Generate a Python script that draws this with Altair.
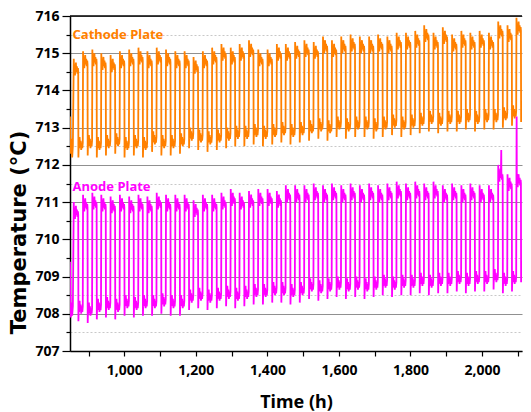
import altair as alt
import pandas as pd

# ---- data ----
# times (h) of each heating step (rising edge)
rise_times = [858, 884, 910, 935, 961, 987, 1013, 1039, 1064, 1090, 1116, 1142,
              1168, 1193, 1219, 1245, 1271, 1297, 1322, 1348, 1374, 1400, 1426,
              1451, 1477, 1503, 1529, 1555, 1580, 1606, 1632, 1658, 1684, 1709,
              1735, 1761, 1787, 1813, 1838, 1864, 1890, 1916, 1942, 1967, 1993,
              2019, 2045, 2071, 2096, 2122]

cathode_high = [714.6, 714.8, 714.85, 714.75, 714.7, 714.8, 714.85, 714.9, 714.8, 714.9, 714.85, 714.8,
                714.8, 714.65, 714.8, 714.9, 715.0, 714.9, 715.0, 715.1, 714.85, 714.85, 715.0, 715.0, 715.05,
                715.1, 715.05, 715.2, 715.1, 715.2, 715.25, 715.2, 715.2, 715.25, 715.2, 715.3, 715.3,
                715.35, 715.5, 715.3, 715.45, 715.25, 715.35, 715.3, 715.35, 715.3, 715.6, 715.5, 715.7, 715.55]
cathode_low = [712.55, 712.6, 712.55, 712.6, 712.65, 712.55, 712.6, 712.55, 712.7, 712.6, 712.6, 712.65,
               712.8, 712.75, 712.7, 712.75, 712.8, 712.85, 712.85, 712.9, 712.85, 712.9, 712.95, 712.9, 712.95,
               713.0, 713.05, 713.0, 713.1, 713.05, 713.1, 713.1, 713.05, 713.1, 713.15, 713.1, 713.15,
               713.2, 713.25, 713.2, 713.25, 713.25, 713.3, 713.25, 713.3, 713.3, 713.35, 713.4, 713.5, 713.7]
anode_high = [710.75, 710.95, 711.0, 710.95, 710.9, 710.95, 710.9, 710.95, 710.9, 711.0, 710.95, 710.95,
              710.95, 710.8, 710.95, 710.95, 711.0, 711.1, 711.0, 711.05, 711.1, 711.1, 711.05, 711.2, 711.2,
              711.2, 711.25, 711.2, 711.25, 711.2, 711.25, 711.2, 711.25, 711.2, 711.25, 711.3, 711.25,
              711.3, 711.25, 711.3, 711.2, 711.25, 711.2, 711.25, 711.2, 711.2, 711.75, 711.5, 711.6, 711.7]
anode_low = [708.15, 708.1, 708.2, 708.25, 708.2, 708.3, 708.25, 708.3, 708.3, 708.35, 708.3, 708.3,
             708.45, 708.5, 708.45, 708.5, 708.55, 708.5, 708.55, 708.6, 708.6, 708.65, 708.65, 708.6, 708.65,
             708.75, 708.7, 708.75, 708.8, 708.75, 708.8, 708.75, 708.8, 708.85, 708.8, 708.85, 708.85,
             708.9, 708.85, 708.9, 708.9, 708.95, 708.9, 708.95, 708.95, 709.0, 708.9, 708.95, 709.2, 709.5]

# first readings before the first heating step
cathode_start_t = [848, 850, 852, 854, 856]
cathode_start_v = [713.3, 712.3, 712.7, 712.2, 712.5]
anode_start_t = [848, 850, 852, 854, 856]
anode_start_v = [709.4, 707.9, 708.3, 707.95, 708.2]

# isolated spikes
anode_spike_t = [2054, 2097]
anode_spike_v = [712.4, 713.3]

# shape of one cycle: fraction of cycle, plateau, offset (degC)
shape_frac = [0.02, 0.06, 0.10, 0.15, 0.20, 0.25, 0.30, 0.36, 0.42, 0.47, 0.50,
              0.52, 0.56, 0.60, 0.65, 0.70, 0.76, 0.82, 0.88, 0.94, 0.99]
shape_phase = ["H"] * 11 + ["L"] * 10
shape_offset = [0.25, -0.15, 0.05, -0.2, 0.0, 0.15, -0.1, 0.05, -0.15, 0.0, -0.1,
                -0.35, 0.1, -0.1, 0.2, -0.05, 0.1, -0.15, 0.05, -0.1, 0.05]

y_ticks = [707, 707.5, 708, 708.5, 709, 709.5, 710, 710.5, 711, 711.5, 712, 712.5,
           713, 713.5, 714, 714.5, 715, 715.5, 716]
x_ticks = [900, 1000, 1100, 1200, 1300, 1400, 1500, 1600, 1700, 1800, 1900, 2000, 2100]
x_domain = [848, 2112]
y_domain = [707, 716]
series_names = ["Cathode Plate", "Anode Plate"]
series_colors = ["#FF8000", "#FF00FF"]
label_t = [855, 855]
label_temp = [715.5, 711.4]


def build(name, high, low, st, sv, kt, kv):
    rows = [(t, v) for t, v in zip(st, sv)]
    for i, r in enumerate(rise_times):
        p = rise_times[i + 1] - r if i + 1 < len(rise_times) else rise_times[i] - rise_times[i - 1]
        for f, ph, off in zip(shape_frac, shape_phase, shape_offset):
            base = high[i] if ph == "H" else low[i]
            rows.append((r + f * p, base + off))
    rows += list(zip(kt, kv))
    rows.sort()
    return pd.DataFrame({"t": [a for a, _ in rows], "temp": [b for _, b in rows], "series": name})


df = pd.concat([
    build(series_names[0], cathode_high, cathode_low, cathode_start_t, cathode_start_v, [], []),
    build(series_names[1], anode_high, anode_low, anode_start_t, anode_start_v, anode_spike_t, anode_spike_v),
])

FONT = "Noto Sans"
MINOR = "datum.value % 1 != 0"
xs = alt.Scale(domain=x_domain, nice=False, zero=False)
ys = alt.Scale(domain=y_domain, nice=False, zero=False)
cs = alt.Scale(domain=series_names, range=series_colors)

x_axis = alt.Axis(
    values=x_ticks, labelExpr="datum.value % 200 == 0 ? format(datum.value, ',') : ''",
    title="Time (h)", tickSize=5, tickColor="black", tickWidth=1.2, domainColor="black", domainWidth=1.5,
    labelFont=FONT, labelFontSize=14, labelFontWeight="bold", labelColor="black", labelPadding=7,
    titleFont=FONT, titleFontSize=18, titleFontWeight="bold", titleColor="black", titlePadding=16,
    grid=False, labelFlush=False)

y_axis = alt.Axis(
    orient="left", values=y_ticks, labelExpr="datum.value % 1 == 0 ? format(datum.value, 'd') : ''",
    title="Temperature (°C)",
    tickSize={"condition": {"test": MINOR, "value": 4}, "value": 8},
    tickColor="black", tickWidth=1.2, domainColor="black", domainWidth=1.5,
    labelFont=FONT, labelFontSize=14, labelFontWeight="bold", labelColor="black", labelPadding=3,
    titleFont="DejaVu Sans", titleFontSize=21, titleFontWeight="bold", titleColor="black", titlePadding=5,
    titleY=216, grid=True,
    gridColor={"condition": {"test": MINOR, "value": "#c8c8c8"}, "value": "#909090"},
    gridDash={"condition": {"test": MINOR, "value": [2, 2]}, "value": []},
    gridWidth={"condition": {"test": MINOR, "value": 1}, "value": 1.2})

lines = alt.Chart(df).mark_line(strokeWidth=1.8, clip=True).encode(
    x=alt.X("t:Q", scale=xs, axis=x_axis),
    y=alt.Y("temp:Q", scale=ys, axis=y_axis),
    color=alt.Color("series:N", scale=cs, legend=None),
    detail="series:N",
)

label_df = pd.DataFrame({"t": label_t, "temp": label_temp, "series": series_names})
labels = alt.Chart(label_df).mark_text(
    align="left", baseline="middle", font=FONT, fontSize=13, fontWeight="bold"
).encode(
    x=alt.X("t:Q", scale=xs, axis=x_axis), y=alt.Y("temp:Q", scale=ys, axis=y_axis), text="series:N",
    color=alt.Color("series:N", scale=cs, legend=None),
)

top_rule = alt.Chart(pd.DataFrame({"v": [y_domain[1]]})).mark_rule(color="black", strokeWidth=1.5).encode(
    y=alt.Y("v:Q", scale=ys, axis=y_axis)
)

chart = alt.layer(lines, labels, top_rule).properties(
    width=452, height=335, padding={"left": 0, "top": 1, "right": 0, "bottom": 0}
).configure_view(stroke=None)

chart.save("out.html", embed_options={"renderer": "svg", "actions": False})
